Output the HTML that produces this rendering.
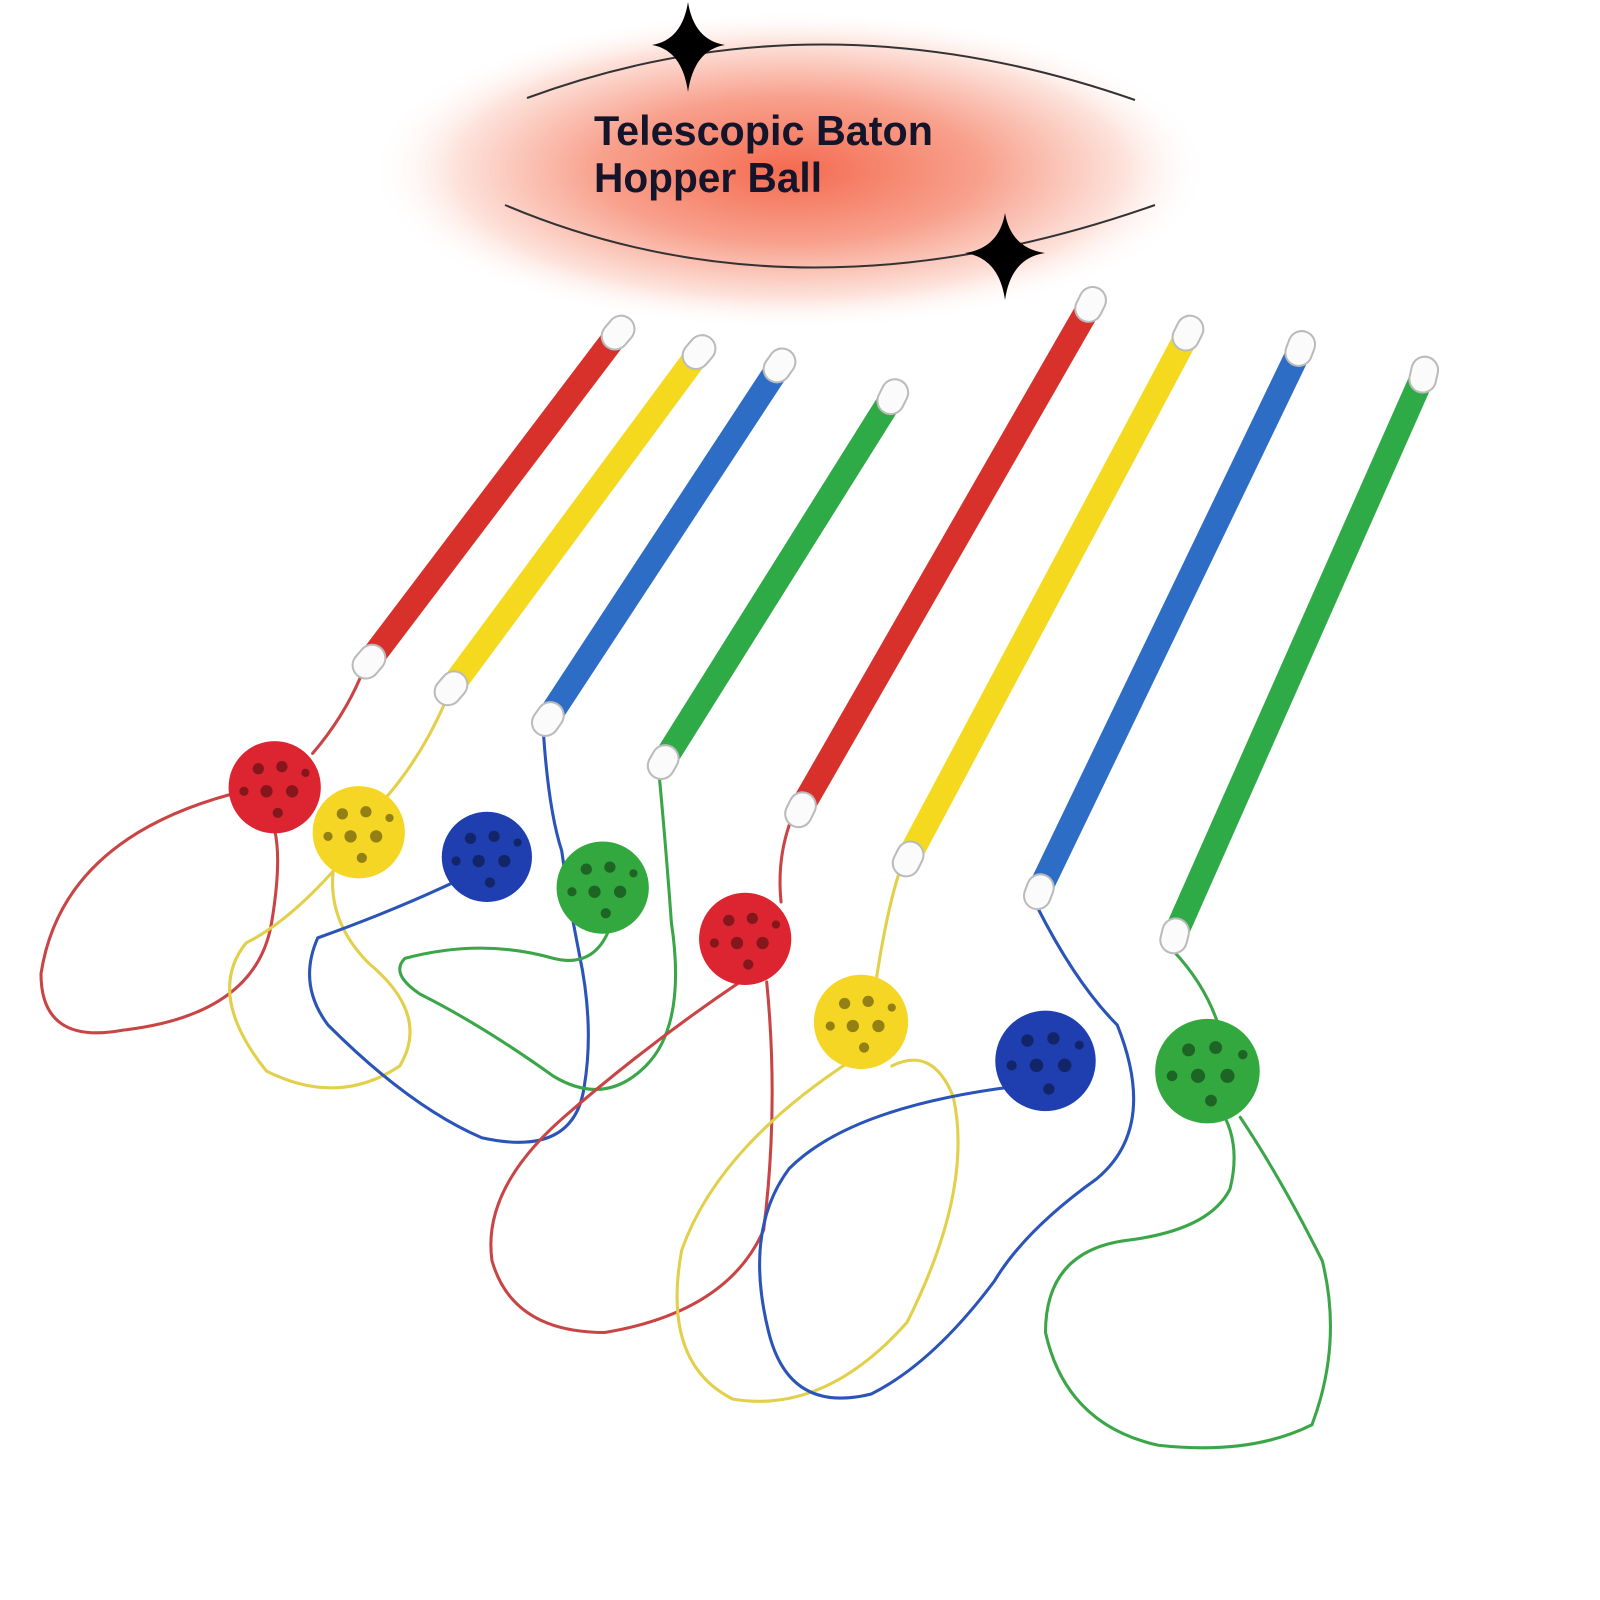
<!DOCTYPE html>
<html><head><meta charset="utf-8"><style>
html,body{margin:0;padding:0;background:#fff;}
svg{display:block;}
</style></head><body>
<svg width="1600" height="1600" viewBox="0 0 1600 1600" xmlns="http://www.w3.org/2000/svg">
<defs>
<radialGradient id="glow" cx="0.5" cy="0.5" r="0.5">
<stop offset="0" stop-color="#f46b50"/>
<stop offset="0.45" stop-color="#f8a08c"/>
<stop offset="0.8" stop-color="#fde3dc"/>
<stop offset="1" stop-color="#fff" stop-opacity="0"/>
</radialGradient>
<g id="holes" fill="#000" fill-opacity="0.4">
<circle cx="-16" cy="-18" r="5.5"/><circle cx="7" cy="-20" r="5.5"/><circle cx="-8" cy="4" r="6"/><circle cx="17" cy="4" r="6"/><circle cx="3" cy="25" r="5"/><circle cx="-30" cy="4" r="4.5"/><circle cx="30" cy="-14" r="4"/>
</g>
</defs>
<rect width="1600" height="1600" fill="#fff"/>
<ellipse cx="790" cy="170" rx="420" ry="160" fill="url(#glow)"/>
<path d="M527 98 Q820 -10 1135 100" fill="none" stroke="#333" stroke-width="2"/>
<path d="M505 205 Q800 330 1155 205" fill="none" stroke="#333" stroke-width="2"/>
<path d="M688 2 Q694 40 725 45 Q694 50 688 92 Q682 50 652 45 Q682 40 688 2Z" fill="#000"/>
<path d="M1005 213 Q1011 248 1045 253 Q1011 258 1005 300 Q999 258 965 253 Q999 248 1005 213Z" fill="#000"/>
<g font-family="'Liberation Sans',sans-serif" font-size="42" fill="#14142a" font-weight="bold">
<text x="594" y="145" textLength="339" lengthAdjust="spacingAndGlyphs">Telescopic Baton</text>
<text x="594" y="192" textLength="228" lengthAdjust="spacingAndGlyphs">Hopper Ball</text>
</g>
<g transform="scale(1.025)">
<g fill="none" stroke-linecap="round">
<g stroke-width="3">
<path d="M352 660 Q335 700 305 735 M225 775 Q60 820 40 950 Q40 1020 120 1005 Q250 990 265 900 Q275 840 268 810" stroke="#c94545"/>
<path d="M433 688 Q410 740 375 780 M325 850 Q280 900 240 920 Q200 970 260 1045 Q330 1080 390 1040 Q420 990 360 940 Q320 900 325 850" stroke="#e2cf4a"/>
<path d="M530 712 Q535 790 548 830 M440 862 Q380 890 310 915 Q290 960 320 1000 Q400 1080 470 1110 Q560 1130 570 1060 Q580 1000 565 930 Q555 880 548 830" stroke="#2a54b8"/>
<path d="M643 755 Q650 830 655 900 Q670 1000 630 1040 Q590 1080 540 1050 Q470 1000 410 970 Q380 950 395 935 Q470 915 540 935 Q580 945 595 905" stroke="#3aa648"/>
<path d="M770 805 Q758 840 762 880 M722 958 Q630 1020 550 1090 Q470 1160 480 1230 Q500 1300 590 1300 Q710 1280 745 1200 Q760 1080 748 958" stroke="#c94545"/>
<path d="M877 852 Q865 890 855 955 M830 1035 Q700 1120 665 1220 Q645 1330 715 1365 Q805 1380 885 1290 Q950 1160 930 1070 Q910 1020 870 1040" stroke="#e2cf4a"/>
<path d="M1012 885 Q1050 960 1090 1000 Q1130 1100 1070 1150 Q1000 1200 970 1250 Q910 1330 850 1360 Q770 1380 750 1300 Q725 1200 770 1140 Q830 1080 990 1060" stroke="#2a54b8"/>
<path d="M1145 928 Q1175 960 1188 998 M1210 1090 Q1250 1150 1290 1230 Q1310 1310 1280 1390 Q1220 1420 1130 1410 Q1040 1390 1020 1300 Q1020 1220 1100 1210 Q1180 1200 1200 1160 Q1210 1120 1195 1090" stroke="#3aa648"/>
</g>
<g stroke-width="24" stroke-linecap="butt">
<line x1="608" y1="318" x2="355" y2="652" stroke="#d8312c"/>
<line x1="687" y1="337" x2="435" y2="678" stroke="#f4d91f"/>
<line x1="765" y1="350" x2="530" y2="708" stroke="#2d6dc6"/>
<line x1="875" y1="380" x2="643" y2="750" stroke="#2eaa46"/>
<line x1="1068" y1="290" x2="777" y2="797" stroke="#d8312c"/>
<line x1="1163" y1="318" x2="882" y2="845" stroke="#f4d91f"/>
<line x1="1272" y1="333" x2="1010" y2="877" stroke="#2d6dc6"/>
<line x1="1392" y1="358" x2="1143" y2="920" stroke="#2eaa46"/>
</g>
<g stroke="#bbb" stroke-width="28" stroke-linecap="round">
<line x1="606" y1="321" x2="600" y2="328"/><line x1="363" y1="642" x2="357" y2="649"/>
<line x1="685" y1="340" x2="679" y2="347"/><line x1="443" y1="668" x2="437" y2="675"/>
<line x1="763" y1="353" x2="758" y2="360"/><line x1="537" y1="698" x2="532" y2="705"/>
<line x1="873" y1="383" x2="869" y2="391"/><line x1="649" y1="740" x2="645" y2="747"/>
<line x1="1066" y1="293" x2="1062" y2="301"/><line x1="783" y1="786" x2="779" y2="794"/>
<line x1="1161" y1="321" x2="1157" y2="329"/><line x1="888" y1="834" x2="884" y2="842"/>
<line x1="1270" y1="336" x2="1267" y2="344"/><line x1="1015" y1="866" x2="1012" y2="874"/>
<line x1="1390" y1="361" x2="1388" y2="370"/><line x1="1147" y1="909" x2="1145" y2="917"/>
</g>
<g stroke="#fbfbfb" stroke-width="24" stroke-linecap="round">
<line x1="606" y1="321" x2="600" y2="328"/><line x1="363" y1="642" x2="357" y2="649"/>
<line x1="685" y1="340" x2="679" y2="347"/><line x1="443" y1="668" x2="437" y2="675"/>
<line x1="763" y1="353" x2="758" y2="360"/><line x1="537" y1="698" x2="532" y2="705"/>
<line x1="873" y1="383" x2="869" y2="391"/><line x1="649" y1="740" x2="645" y2="747"/>
<line x1="1066" y1="293" x2="1062" y2="301"/><line x1="783" y1="786" x2="779" y2="794"/>
<line x1="1161" y1="321" x2="1157" y2="329"/><line x1="888" y1="834" x2="884" y2="842"/>
<line x1="1270" y1="336" x2="1267" y2="344"/><line x1="1015" y1="866" x2="1012" y2="874"/>
<line x1="1390" y1="361" x2="1388" y2="370"/><line x1="1147" y1="909" x2="1145" y2="917"/>
</g>
</g>
<g>
<circle cx="268" cy="768" r="45" fill="#dc2530"/><use href="#holes" transform="translate(268 768)"/>
<circle cx="350" cy="812" r="45" fill="#f6d624"/><use href="#holes" transform="translate(350 812)"/>
<circle cx="475" cy="836" r="44" fill="#1f3fb0"/><use href="#holes" transform="translate(475 836)"/>
<circle cx="588" cy="866" r="45" fill="#32a83e"/><use href="#holes" transform="translate(588 866)"/>
<circle cx="727" cy="916" r="45" fill="#dc2530"/><use href="#holes" transform="translate(727 916)"/>
<circle cx="840" cy="997" r="46" fill="#f6d624"/><use href="#holes" transform="translate(840 997)"/>
<circle cx="1020" cy="1035" r="49" fill="#1f3fb0"/><use href="#holes" transform="translate(1020 1035) scale(1.1)"/>
<circle cx="1178" cy="1045" r="51" fill="#32a83e"/><use href="#holes" transform="translate(1178 1045) scale(1.15)"/>
</g>
</g>
</svg>
</body></html>
